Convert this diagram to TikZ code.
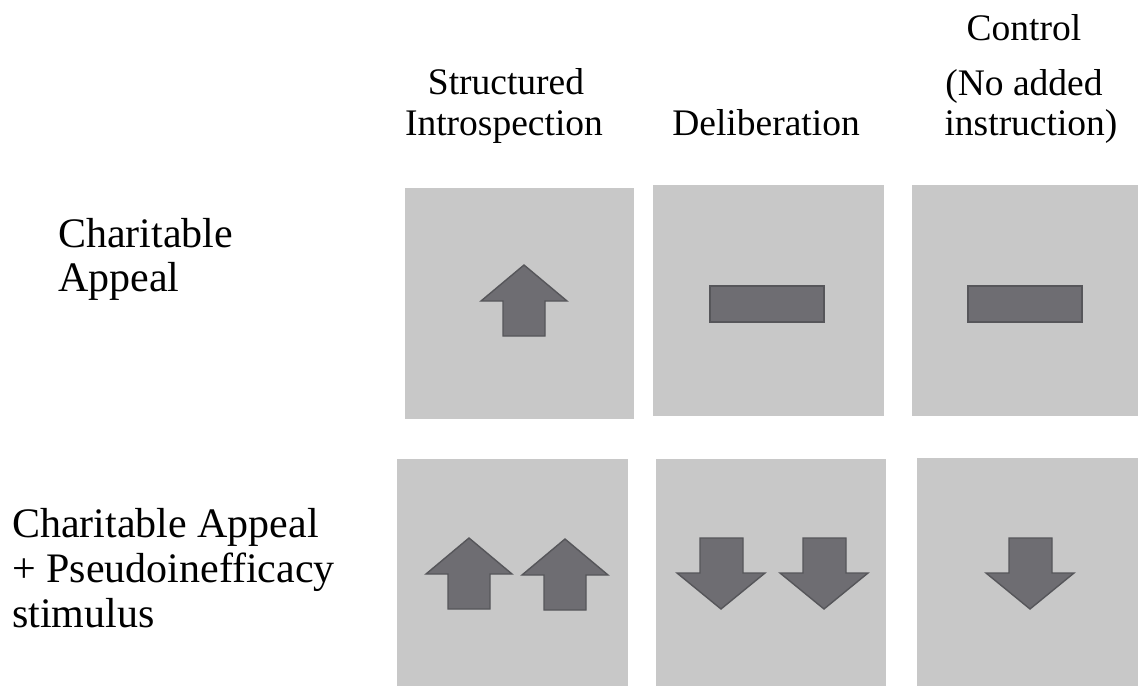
\documentclass[tikz,border=0pt]{standalone}
\usepackage{fontspec}
\setmainfont{Liberation Serif}
\begin{document}
\begin{tikzpicture}[x=1pt,y=-1pt,
  panel/.style={fill=panelgrey,draw=none},
  arrowshape/.style={fill=arrowfill,draw=arrowline,line width=1.4pt,line join=miter},
  headtxt/.style={font=\fontsize{37.5}{40}\selectfont,inner sep=0pt,anchor=base},
  rowtxt/.style={font=\fontsize{42}{45}\selectfont,inner sep=0pt,anchor=base west},
  uparr/.pic={\path[arrowshape] (0,0) -- (43,36) -- (21,36) -- (21,71) -- (-21,71) -- (-21,36) -- (-43,36) -- cycle;},
  downarr/.pic={\path[arrowshape] (-21,0) -- (22,0) -- (22,35) -- (44,35) -- (0,71) -- (-44,35) -- (-21,35) -- cycle;}
]
\definecolor{panelgrey}{HTML}{C8C8C8}
\definecolor{arrowfill}{HTML}{6E6D72}
\definecolor{arrowline}{HTML}{56565A}
\useasboundingbox (0,0) rectangle (1138,686);

% column headings
\node[headtxt] (h1a) at (506,94) {Structured};
\node[headtxt] (h1b) at (504,135) {Introspection};
\node[headtxt] (h2)  at (766,135) {Deliberation};
\node[headtxt] (h3a) at (1024,40) {Control};
\node[headtxt] (h3b) at (1024,95) {(No added};
\node[headtxt] (h3c) at (1031,135) {instruction)};

% row headings
\node[rowtxt] (r1a) at (58,247) {Charitable};
\node[rowtxt] (r1b) at (58,291) {Appeal};
\node[rowtxt] (r2a) at (12,537) {Charitable Appeal};
\node[rowtxt] (r2b) at (12,582) {+ Pseudoinefficacy};
\node[rowtxt] (r2c) at (12,627) {stimulus};

% panels
\path[panel] (405,188) rectangle (634,419);
\path[panel] (653,185) rectangle (884,416);
\path[panel] (912,185) rectangle (1138,416);
\path[panel] (397,459) rectangle (628,686);
\path[panel] (656,459) rectangle (886,686);
\path[panel] (917,458) rectangle (1138,686);

% row 1 effects
\pic at (524,265) {uparr};
\path[arrowshape] (710,286) rectangle (824,322);
\path[arrowshape] (968,286) rectangle (1082,322);

% row 2 effects
\pic at (469,538) {uparr};
\pic at (565,539) {uparr};
\pic at (721,538) {downarr};
\pic at (824,538) {downarr};
\pic at (1030,538) {downarr};
\end{tikzpicture}
\end{document}
